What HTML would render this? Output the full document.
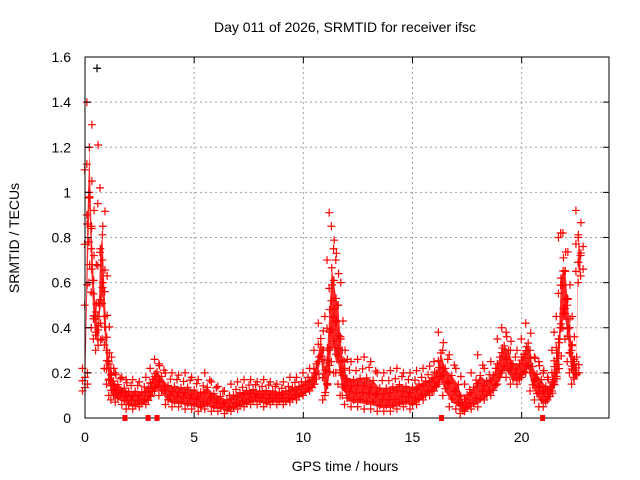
<!DOCTYPE html>
<html><head><meta charset="utf-8"><style>
body{margin:0;background:#fff}
svg{display:block;font-family:"Liberation Sans",sans-serif}
</style></head><body>
<svg id="c" width="640" height="480"></svg>
<script>
const times=[0,0.1,0.2,0.3,0.4,0.5,0.6,0.7,0.8,0.9,1.0,1.1,1.2,1.3,1.5,1.8,2.0,2.3,2.6,2.9,3.1,3.3,3.5,3.8,4.1,4.4,4.7,5.0,5.3,5.6,5.9,6.2,6.5,6.8,7.1,7.4,7.7,8.0,8.3,8.6,8.9,9.2,9.5,9.8,10.1,10.4,10.6,10.8,11.0,11.1,11.2,11.3,11.4,11.5,11.6,11.7,11.8,11.9,12.0,12.3,12.6,12.9,13.2,13.5,13.8,14.1,14.4,14.7,15.0,15.3,15.6,15.9,16.1,16.3,16.5,16.8,17.1,17.3,17.5,17.8,18.1,18.4,18.7,19.0,19.2,19.4,19.6,19.9,20.1,20.3,20.5,20.7,20.9,21.1,21.3,21.5,21.6,21.7,21.8,21.9,22.0,22.1,22.2,22.3,22.4,22.5,22.6,22.7];
const lows=[0.12,0.5,0.9,0.6,0.4,0.35,0.3,0.45,0.5,0.35,0.22,0.15,0.1,0.08,0.07,0.06,0.04,0.04,0.05,0.06,0.1,0.12,0.1,0.06,0.05,0.05,0.04,0.04,0.03,0.04,0.03,0.03,0.02,0.03,0.04,0.05,0.06,0.06,0.05,0.06,0.06,0.06,0.07,0.08,0.1,0.12,0.15,0.25,0.08,0.1,0.15,0.3,0.25,0.2,0.2,0.15,0.1,0.1,0.06,0.05,0.05,0.04,0.04,0.03,0.03,0.03,0.04,0.05,0.04,0.06,0.08,0.1,0.12,0.15,0.1,0.05,0.04,0.02,0.03,0.04,0.05,0.08,0.1,0.15,0.2,0.18,0.15,0.15,0.18,0.2,0.12,0.08,0.05,0.05,0.08,0.12,0.15,0.2,0.35,0.4,0.4,0.35,0.25,0.2,0.15,0.18,0.65,0.6];
const highs=[0.22,1.1,1.4,1.0,0.75,0.55,0.45,0.95,1.02,0.7,0.45,0.3,0.25,0.22,0.2,0.18,0.17,0.17,0.16,0.18,0.22,0.26,0.24,0.2,0.2,0.19,0.2,0.18,0.17,0.2,0.16,0.14,0.12,0.15,0.16,0.17,0.17,0.16,0.17,0.16,0.15,0.16,0.18,0.18,0.2,0.22,0.3,0.42,0.3,0.45,0.7,0.91,0.85,0.75,0.7,0.5,0.35,0.3,0.25,0.25,0.26,0.27,0.25,0.2,0.2,0.21,0.22,0.2,0.2,0.21,0.22,0.23,0.25,0.38,0.3,0.28,0.22,0.1,0.15,0.2,0.28,0.22,0.25,0.35,0.4,0.38,0.3,0.3,0.35,0.42,0.3,0.27,0.25,0.2,0.18,0.3,0.38,0.45,0.8,0.82,0.82,0.65,0.5,0.4,0.3,0.25,0.92,0.8];
const outT=[0.55,0.6,0.3];
const outV=[1.55,1.21,0.85];
const sqT=[1.83,2.89,3.3,16.33,20.96];
const xTicks=[0,5,10,15,20];
const yTicks=[0,0.2,0.4,0.6,0.8,1,1.2,1.4,1.6];
const yLabels=["0","0.2","0.4","0.6","0.8","1","1.2","1.4","1.6"];

const L=85,R=609,T=57,B=418;
const X=t=>L+(t/24)*(R-L);
const Y=v=>B-(v/1.6)*(B-T);
const NS="http://www.w3.org/2000/svg";
const svg=document.getElementById('c');
function mk(tag,at,parent){const e=document.createElementNS(NS,tag);for(const k in at)e.setAttribute(k,at[k]);(parent||svg).appendChild(e);return e;}

xTicks.forEach(t=>{if(t>0){const g=mk('line',{x1:X(t),x2:X(t),y1:T,y2:B,stroke:'#a0a0a0','stroke-dasharray':'2,3'});

}});
yTicks.forEach(v=>{if(v>0&&v<1.6){const g=mk('line',{x1:L,x2:R,y1:Y(v),y2:Y(v),stroke:'#a0a0a0','stroke-dasharray':'2,3'});

}});

let pts=times.map((t,i)=>X(t)+','+Y(lows[i]+0.6*(highs[i]-lows[i]))).join(' ')+' '+times.map((t,i)=>X(t)+','+Y(lows[i]+0.08*(highs[i]-lows[i]))).reverse().join(' ');
const band=mk('polygon',{points:pts,fill:'#ff0000',opacity:'0.85'});



function plus(x,y,col){const p=mk('path',{d:`M${x-4},${y}h8M${x},${y-4}v8`,stroke:col,'stroke-width':'1.2',fill:'none'});

}
const fr=[0,0.15,0.3,0.45,0.6,0.8,1];
times.forEach((t,i)=>{
 const lo=lows[i],hi=highs[i];
 fr.forEach((f,k)=>plus(X(t)+((k%3)-1)*2.5,Y(lo+f*(hi-lo)),'#ff0000'));
});
outT.forEach((t,i)=>plus(X(t),Y(outV[i]),i==0?'#000':'#ff0000'));

const frm=mk('rect',{x:L,y:T,width:R-L,height:B-T,fill:'none',stroke:'#000','stroke-width':'1'});



xTicks.forEach(t=>{
 mk('line',{x1:X(t),x2:X(t),y1:B,y2:B-6,stroke:'#000'});
 mk('line',{x1:X(t),x2:X(t),y1:T,y2:T+6,stroke:'#000'});
 const tx=mk('text',{x:X(t),y:B+24,'text-anchor':'middle','font-size':'14',fill:'#000'});
 tx.textContent=t;
 
 
});
yTicks.forEach((v,i)=>{
 mk('line',{x1:L,x2:L+6,y1:Y(v),y2:Y(v),stroke:'#000'});
 mk('line',{x1:R,x2:R-6,y1:Y(v),y2:Y(v),stroke:'#000'});
 const tx=mk('text',{x:L-14,y:Y(v)+5,'text-anchor':'end','font-size':'14',fill:'#000'});
 tx.textContent=yLabels[i];
 
 
});
sqT.forEach(t=>{const s=mk('rect',{x:X(t)-2.5,y:B-3,width:5,height:6,fill:'#ff0000'});

});

const ti=mk('text',{x:345,y:32,'text-anchor':'middle','font-size':'14',fill:'#000'});
ti.textContent='Day 011 of 2026, SRMTID for receiver ifsc';


const xl=mk('text',{x:345,y:471,'text-anchor':'middle','font-size':'14',fill:'#000'});
xl.textContent='GPS time / hours';


const yl=mk('text',{x:19,y:238,'text-anchor':'middle','font-size':'14',fill:'#000',transform:'rotate(-90 19 238)'});
yl.textContent='SRMTID / TECUs';


</script>
</body></html>
